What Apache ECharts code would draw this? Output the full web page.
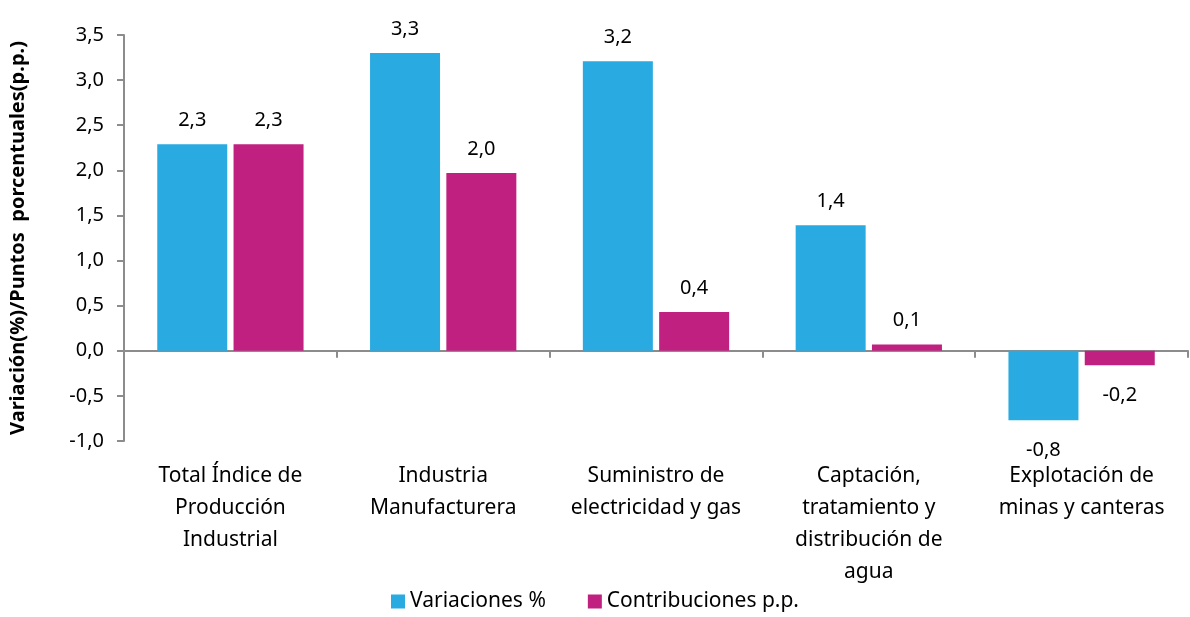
<!DOCTYPE html>
<html lang="es">
<head>
<meta charset="UTF-8">
<title>Variación y contribuciones</title>
<script src="https://cdn.jsdelivr.net/npm/echarts@6.0.0/dist/echarts.min.js"></script>
<style>
  html, body { margin: 0; padding: 0; background: #fff; }
  #main { width: 1190px; height: 617px; }
</style>
</head>
<body>
<div id="main"></div>
<script>
// datos
var categorias = [
    'Total Índice de\nProducción\nIndustrial',
    'Industria\nManufacturera',
    'Suministro de\nelectricidad y gas',
    'Captación,\ntratamiento y\ndistribución de\nagua',
    'Explotación de\nminas y canteras'
];
var variaciones = [2.29, 3.30, 3.21, 1.39, -0.77];
var contribuciones = [2.29, 1.97, 0.43, 0.07, -0.16];
var serieNombres = ['Variaciones %', 'Contribuciones p.p.'];
var colores = ['#29abe2', '#c0207f'];

var fuente = '"Noto Sans", "Open Sans", sans-serif';

function coma(v) {
    return v.toFixed(1).replace('.', ',');
}

// etiqueta arriba para positivos, abajo para negativos
function conEtiquetas(arr) {
    return arr.map(function (v) {
        return {
            value: v,
            label: v < 0 ? { position: 'bottom', distance: 20 } : { position: 'top', distance: 14 }
        };
    });
}

var etiqueta = {
    show: true,
    fontFamily: fuente,
    fontSize: 20,
    color: '#000',
    formatter: function (p) { return coma(p.value); }
};

var myChart = echarts.init(document.getElementById('main'));

var option = {
    animation: false,
    color: colores,
    grid: { left: 124, right: 2, top: 35, bottom: 176 },
    legend: {
        bottom: 0,
        left: 'center',
        itemWidth: 14,
        itemHeight: 14,
        itemGap: 42,
        icon: 'rect',
        textStyle: { fontFamily: fuente, fontSize: 21, color: '#000' },
        data: serieNombres
    },
    xAxis: [
        {
            // solo los nombres de categoría, abajo
            type: 'category',
            data: categorias,
            position: 'bottom',
            axisLine: { show: false, onZero: false },
            axisTick: { show: false },
            axisLabel: {
                interval: 0,
                margin: 19,
                fontFamily: fuente,
                fontSize: 21,
                lineHeight: 32,
                color: '#000'
            }
        },
        {
            // línea del cero con marcas
            type: 'category',
            data: categorias,
            position: 'bottom',
            axisLine: { onZero: true, lineStyle: { color: '#8c8c8c', width: 2 } },
            axisTick: { show: true, length: 7, lineStyle: { color: '#8c8c8c', width: 2 } },
            axisLabel: { show: false }
        }
    ],
    yAxis: {
        type: 'value',
        min: -1,
        max: 3.5,
        interval: 0.5,
        name: 'Variación(%)/Puntos  porcentuales(p.p.)',
        nameLocation: 'middle',
        nameGap: 96,
        nameTextStyle: { fontFamily: fuente, fontSize: 20, fontWeight: 'bold', color: '#000' },
        splitLine: { show: false },
        axisLine: { show: true, lineStyle: { color: '#8c8c8c', width: 2 } },
        axisTick: { show: true, length: 7, lineStyle: { color: '#8c8c8c', width: 2 } },
        axisLabel: {
            margin: 20,
            fontFamily: fuente,
            fontSize: 20,
            color: '#000',
            formatter: function (v) { return coma(v); }
        }
    },
    series: [
        {
            name: serieNombres[0],
            type: 'bar',
            xAxisIndex: 0,
            barWidth: 70,
            barGap: '9%',
            data: conEtiquetas(variaciones),
            label: etiqueta
        },
        {
            name: serieNombres[1],
            type: 'bar',
            xAxisIndex: 0,
            barWidth: 70,
            barGap: '9%',
            data: conEtiquetas(contribuciones),
            label: etiqueta
        }
    ]
};

myChart.setOption(option);
</script>
</body>
</html>
